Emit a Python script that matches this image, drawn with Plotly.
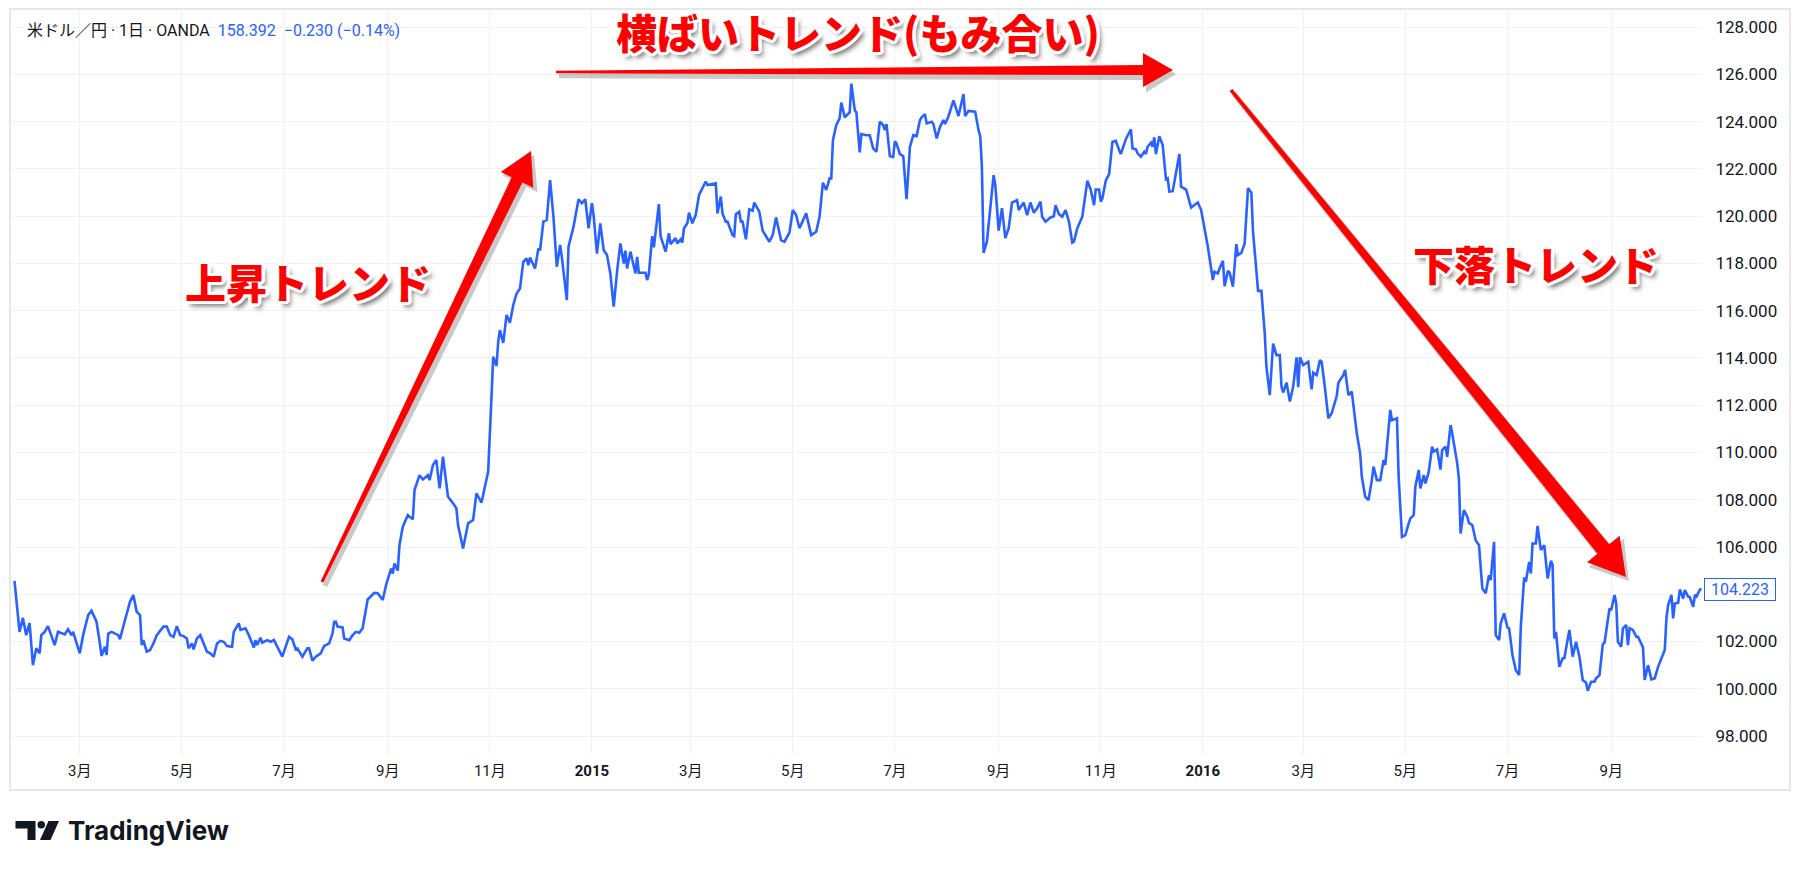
import math
import plotly.graph_objects as go

# USD/JPY daily close (OANDA)
dates_2014 = [
    "01-21", "01-24", "01-26", "01-28", "01-30", "02-01", "02-03", "02-05", "02-06", "02-08",
    "02-10", "02-14", "02-16", "02-20", "02-22", "02-24", "02-25", "03-01", "03-03", "03-06",
    "03-08", "03-11", "03-13", "03-14", "03-16", "03-17", "03-18", "03-20", "03-24", "03-25",
    "03-28", "03-31", "04-02", "04-04", "04-06", "04-07", "04-08", "04-10", "04-12", "04-14",
    "04-16", "04-20", "04-22", "04-24", "04-26", "04-28", "04-30", "05-02", "05-04", "05-05",
    "05-07", "05-08", "05-10", "05-12", "05-16", "05-18", "05-20", "05-22", "05-24", "05-26",
    "05-28", "05-31", "06-01", "06-04", "06-05", "06-08", "06-10", "06-13", "06-14", "06-15",
    "06-17", "06-18", "06-21", "06-23", "06-25", "06-27", "06-30", "07-04", "07-06", "07-08",
    "07-09", "07-12", "07-15", "07-16", "07-18", "07-20", "07-23", "07-25", "07-28", "07-30",
    "07-31", "08-01", "08-02", "08-05", "08-06", "08-09", "08-11", "08-13", "08-15", "08-17",
    "08-20", "08-24", "08-26", "08-29", "08-31", "09-03", "09-04", "09-05", "09-07", "09-08",
    "09-10", "09-13", "09-16", "09-17", "09-20", "09-22", "09-25", "09-26", "09-28", "09-30",
    "10-02", "10-04", "10-07", "10-10", "10-12", "10-13", "10-16", "10-19", "10-22", "10-24",
    "10-27", "10-28", "10-31", "11-02", "11-03", "11-05", "11-06", "11-07", "11-09", "11-11",
    "11-13", "11-15", "11-17", "11-19", "11-21", "11-23", "11-24", "11-25", "11-28", "11-30",
    "12-01", "12-03", "12-05", "12-07", "12-09", "12-11", "12-13", "12-14", "12-17", "12-18",
    "12-21", "12-24", "12-26", "12-28", "12-30",
]
close_2014 = [
    104.57, 102.41, 103.00, 102.27, 102.78, 101.00, 101.72, 101.50, 102.27, 102.41,
    102.65, 101.85, 102.41, 102.30, 102.52, 102.27, 102.41, 101.50, 102.27, 103.12,
    103.30, 102.84, 101.92, 101.39, 101.78, 101.43, 102.34, 102.41, 102.27, 102.10,
    102.90, 103.68, 103.97, 103.26, 103.12, 101.85, 102.06, 101.57, 101.64, 101.92,
    102.27, 102.63, 102.63, 102.27, 102.20, 102.65, 102.27, 102.23, 102.13, 101.71,
    101.92, 101.67, 102.13, 102.27, 101.57, 101.50, 101.36, 101.92, 102.03, 101.99,
    101.81, 101.78, 102.41, 102.77, 102.49, 102.56, 102.27, 101.75, 102.06, 101.85,
    102.16, 101.95, 102.06, 101.99, 102.06, 101.78, 101.36, 102.20, 102.09, 101.67,
    101.71, 101.36, 101.71, 101.71, 101.19, 101.36, 101.50, 101.81, 101.92, 102.34,
    102.84, 102.84, 102.63, 102.60, 102.13, 102.06, 102.27, 102.41, 102.37, 102.56,
    103.78, 104.06, 104.04, 103.76, 104.39, 105.09, 104.88, 105.30, 105.00, 106.08,
    106.86, 107.35, 107.17, 108.41, 109.04, 108.86, 109.04, 108.83, 109.47, 109.68,
    108.48, 109.82, 108.13, 107.85, 107.64, 106.93, 105.94, 107.00, 107.14, 108.27,
    107.88, 108.20, 109.19, 112.36, 114.05, 113.66, 114.68, 115.18, 114.64, 115.82,
    115.49, 116.24, 116.73, 116.94, 118.07, 118.21, 117.93, 118.25, 117.79, 118.63,
    118.56, 119.77, 119.84, 121.53, 119.98, 117.86, 118.78, 118.28, 116.45, 118.71,
    119.56, 120.72, 120.55, 120.72, 119.49,
]

dates_2015 = [
    "01-01", "01-02", "01-04", "01-06", "01-08", "01-10", "01-12", "01-14", "01-16", "01-18",
    "01-20", "01-21", "01-22", "01-24", "01-27", "01-28", "01-29", "02-02", "02-03", "02-04",
    "02-06", "02-07", "02-10", "02-11", "02-14", "02-16", "02-17", "02-20", "02-21", "02-23",
    "02-24", "02-25", "02-27", "02-28", "03-02", "03-04", "03-06", "03-08", "03-10", "03-11",
    "03-16", "03-17", "03-19", "03-20", "03-22", "03-23", "03-26", "03-27", "03-28", "03-30",
    "03-31", "04-01", "04-03", "04-05", "04-07", "04-08", "04-11", "04-13", "04-15", "04-17",
    "04-19", "04-21", "04-24", "04-26", "04-29", "05-01", "05-03", "05-05", "05-09", "05-12",
    "05-15", "05-17", "05-19", "05-21", "05-23", "05-24", "05-25", "05-27", "05-29", "05-30",
    "06-01", "06-04", "06-05", "06-07", "06-08", "06-10", "06-11", "06-14", "06-16", "06-18",
    "06-20", "06-22", "06-24", "06-25", "06-26", "06-28", "06-30", "07-01", "07-02", "07-04",
    "07-06", "07-08", "07-10", "07-12", "07-14", "07-16", "07-17", "07-19", "07-20", "07-23",
    "07-24", "07-26", "07-28", "07-30", "07-31", "08-02", "08-05", "08-08", "08-11", "08-12",
    "08-14", "08-18", "08-20", "08-21", "08-22", "08-23", "08-25", "08-27", "08-29", "08-30",
    "09-01", "09-03", "09-05", "09-07", "09-09", "09-12", "09-13", "09-16", "09-18", "09-20",
    "09-22", "09-24", "09-26", "09-27", "09-29", "10-02", "10-04", "10-05", "10-07", "10-09",
    "10-11", "10-13", "10-15", "10-16", "10-18", "10-21", "10-24", "10-26", "10-28", "10-29",
    "10-31", "11-01", "11-02", "11-04", "11-06", "11-08", "11-10", "11-12", "11-13", "11-16",
    "11-19", "11-20", "11-22", "11-23", "11-25", "11-27", "11-28", "11-29", "12-01", "12-02",
    "12-03", "12-04", "12-06", "12-08", "12-10", "12-11", "12-12", "12-14", "12-16", "12-18",
    "12-19", "12-22", "12-25", "12-27", "12-29", "12-31",
]
close_2015 = [
    120.55, 120.05, 118.42, 119.70, 118.57, 118.36, 117.58, 116.17, 117.65, 118.85,
    118.00, 118.54, 117.79, 118.50, 117.58, 118.28, 117.61, 117.61, 117.30, 117.55,
    119.16, 118.68, 120.51, 119.16, 118.50, 119.28, 118.82, 119.07, 118.85, 119.02,
    118.88, 119.49, 119.70, 120.15, 119.70, 120.05, 120.90, 121.19, 121.47, 121.32,
    121.39, 120.12, 120.83, 120.12, 119.77, 119.77, 119.20, 119.16, 120.09, 120.19,
    119.77, 119.77, 119.02, 120.29, 120.23, 120.58, 120.19, 119.39, 119.13, 118.92,
    119.20, 119.95, 118.99, 118.92, 119.30, 120.26, 120.05, 119.49, 120.12, 119.20,
    119.34, 119.98, 121.42, 121.11, 121.60, 121.60, 123.22, 123.86, 124.14, 124.81,
    124.19, 124.39, 125.61, 124.50, 124.39, 122.70, 123.48, 123.43, 123.43, 122.87,
    122.73, 124.00, 123.86, 123.64, 123.90, 122.54, 122.51, 123.18, 123.07, 122.63,
    122.54, 120.72, 122.93, 123.43, 123.39, 124.07, 124.19, 124.32, 123.93, 124.00,
    123.90, 123.29, 123.79, 124.07, 123.90, 124.22, 124.90, 124.24, 125.17, 124.24,
    124.46, 124.42, 123.64, 123.39, 122.10, 118.45, 118.92, 120.40, 121.74, 121.32,
    119.39, 120.34, 119.07, 119.49, 120.58, 120.68, 120.26, 120.58, 120.05, 120.58,
    120.15, 120.34, 120.62, 119.98, 119.77, 119.95, 120.00, 120.47, 120.09, 119.98,
    120.26, 119.77, 118.88, 118.92, 119.49, 119.98, 121.50, 121.13, 120.47, 121.13,
    121.13, 120.62, 120.76, 121.50, 121.78, 123.15, 123.19, 122.80, 122.63, 123.26,
    123.68, 122.87, 122.83, 122.66, 122.52, 122.73, 122.63, 122.94, 123.11, 122.94,
    123.34, 122.63, 123.39, 123.01, 121.56, 121.60, 121.04, 121.06, 121.83, 122.63,
    121.25, 121.13, 120.37, 120.47, 120.58, 120.26,
]

dates_2016 = [
    "01-03", "01-04", "01-07", "01-08", "01-10", "01-11", "01-13", "01-14", "01-16", "01-17",
    "01-19", "01-21", "01-22", "01-24", "01-26", "01-28", "01-30", "01-31", "02-02", "02-03",
    "02-05", "02-06", "02-07", "02-08", "02-10", "02-12", "02-14", "02-16", "02-17", "02-18",
    "02-20", "02-22", "02-24", "02-26", "02-27", "02-28", "03-01", "03-04", "03-06", "03-07",
    "03-09", "03-11", "03-12", "03-14", "03-16", "03-18", "03-21", "03-22", "03-25", "03-26",
    "03-28", "03-30", "04-02", "04-04", "04-05", "04-07", "04-09", "04-11", "04-12", "04-14",
    "04-16", "04-18", "04-19", "04-22", "04-23", "04-26", "04-27", "04-29", "05-01", "05-03",
    "05-04", "05-06", "05-07", "05-09", "05-10", "05-12", "05-13", "05-15", "05-17", "05-18",
    "05-20", "05-22", "05-23", "05-25", "05-26", "05-28", "05-29", "06-01", "06-02", "06-03",
    "06-05", "06-07", "06-08", "06-10", "06-12", "06-14", "06-16", "06-18", "06-20", "06-21",
    "06-23", "06-24", "06-26", "06-27", "06-29", "07-01", "07-02", "07-04", "07-06", "07-08",
    "07-09", "07-11", "07-12", "07-14", "07-15", "07-16", "07-18", "07-19", "07-21", "07-23",
    "07-25", "07-27", "07-28", "07-29", "07-30", "08-01", "08-03", "08-04", "08-07", "08-09",
    "08-11", "08-13", "08-15", "08-17", "08-18", "08-20", "08-22", "08-23", "08-25", "08-27",
    "08-28", "08-31", "09-01", "09-03", "09-04", "09-05", "09-07", "09-08", "09-10", "09-11",
    "09-12", "09-14", "09-16", "09-17", "09-19", "09-20", "09-21", "09-23", "09-25", "09-27",
    "09-29", "10-01", "10-03", "10-04", "10-05", "10-07", "10-08", "10-09", "10-11", "10-12",
    "10-14", "10-15", "10-17", "10-18", "10-20", "10-21", "10-22", "10-24", "10-25",
]
close_2016 = [
    119.13, 118.71, 117.30, 117.65, 117.58, 117.79, 118.11, 117.04, 117.69, 117.61,
    117.02, 118.82, 118.36, 118.45, 118.85, 121.19, 121.00, 119.34, 117.69, 116.84,
    116.84, 115.88, 115.04, 113.63, 112.43, 114.61, 114.12, 114.12, 112.79, 112.54,
    112.96, 112.16, 112.79, 114.03, 112.76, 114.03, 113.70, 113.84, 112.67, 113.38,
    113.28, 113.91, 113.84, 112.72, 111.45, 111.66, 112.39, 112.95, 113.28, 113.49,
    112.43, 112.57, 110.81, 109.96, 108.97, 108.13, 107.99, 108.83, 109.40, 108.83,
    108.83, 109.68, 109.47, 111.80, 111.37, 111.45, 108.97, 106.43, 106.50, 107.00,
    107.21, 107.35, 108.55, 109.26, 108.48, 109.04, 108.69, 109.19, 110.25, 110.04,
    110.13, 109.28, 110.10, 110.25, 109.82, 111.16, 110.81, 109.54, 108.90, 106.57,
    107.56, 107.28, 107.02, 106.93, 106.29, 106.08, 104.25, 104.04, 104.81, 104.60,
    106.22, 102.27, 102.06, 102.77, 103.19, 102.60, 102.56, 101.43, 100.79, 100.58,
    102.63, 104.71, 104.53, 105.37, 104.88, 106.15, 106.15, 106.89, 105.87, 106.08,
    104.67, 105.42, 105.24, 102.13, 102.41, 100.93, 101.29, 101.29, 102.49, 101.36,
    101.99, 101.36, 100.37, 100.26, 99.92, 100.30, 100.30, 100.44, 100.58, 101.89,
    101.95, 103.40, 103.33, 103.97, 103.61, 101.99, 101.78, 102.56, 102.70, 101.85,
    102.56, 102.49, 102.20, 102.20, 101.92, 101.75, 100.37, 101.00, 100.40, 100.44,
    100.93, 101.29, 101.64, 102.98, 103.54, 103.97, 102.98, 103.61, 103.64, 104.20,
    103.82, 104.18, 103.90, 103.87, 103.47, 103.97, 103.90, 104.20, 104.223,
]

tick_dates = [
    "2014-03-01", "2014-05-01", "2014-07-01", "2014-09-01", "2014-11-01", "2015-01-01",
    "2015-03-01", "2015-05-01", "2015-07-01", "2015-09-01", "2015-11-01", "2016-01-01",
    "2016-03-01", "2016-05-01", "2016-07-01", "2016-09-01",
]
tick_labels = [
    "3月", "5月", "7月", "9月", "11月", "<b>2015</b>",
    "3月", "5月", "7月", "9月", "11月", "<b>2016</b>",
    "3月", "5月", "7月", "9月",
]
price_ticks = [98, 100, 102, 104, 106, 108, 110, 112, 114, 116, 118, 120, 122, 124, 126, 128]
last_price = 104.223

dates = ["2014-" + d for d in dates_2014] + ["2015-" + d for d in dates_2015] + ["2016-" + d for d in dates_2016]
closes = close_2014 + close_2015 + close_2016

# the last-price tag hides the price label it sits on
price_labels = ["" if abs(v - last_price) < 1 else f"{v:.3f}" for v in price_ticks]

# page geometry (pixels) -> paper coords
W, H = 1804, 871
ML, MR, MT, MB = 12, 102, 9, 117
PW, PH = W - ML - MR, H - MT - MB


def paper(x, y):
    return (x - ML) / PW, (H - MB - y) / PH


def poly(points):
    coords = [paper(x, y) for x, y in points]
    return "M " + " L ".join(f"{a:.5f},{b:.5f}" for a, b in coords) + " Z"


def arrow_path(tail, tip, w0, w1, head_w, head_len, dx=0, dy=0):
    tx, ty = tail[0] + dx, tail[1] + dy
    hx, hy = tip[0] + dx, tip[1] + dy
    n = math.hypot(hx - tx, hy - ty)
    ux, uy = (hx - tx) / n, (hy - ty) / n
    nx, ny = -uy, ux
    bx, by = hx - ux * head_len, hy - uy * head_len
    pts = [
        (tx + nx * w0 / 2, ty + ny * w0 / 2),
        (bx + nx * w1 / 2, by + ny * w1 / 2),
        (bx + nx * head_w / 2, by + ny * head_w / 2),
        (hx, hy),
        (bx - nx * head_w / 2, by - ny * head_w / 2),
        (bx - nx * w1 / 2, by - ny * w1 / 2),
        (tx - nx * w0 / 2, ty - ny * w0 / 2),
    ]
    return poly(pts)


fig = go.Figure()

fig.add_trace(
    go.Scatter(
        x=dates,
        y=closes,
        mode="lines",
        line=dict(color="#2962ff", width=2.6),
        hoverinfo="skip",
        showlegend=False,
    )
)

grid = "#f0f1f4"
text_dark = "#131722"
fig.update_layout(
    width=W,
    height=H,
    margin=dict(l=ML, r=MR, t=MT, b=MB),
    paper_bgcolor="white",
    plot_bgcolor="white",
    font=dict(family="Roboto, 'Noto Sans CJK JP', sans-serif", color=text_dark),
    xaxis=dict(
        type="date",
        range=["2014-01-19 12:00", "2016-10-25 06:00"],
        tickmode="array",
        tickvals=tick_dates,
        ticktext=tick_labels,
        showgrid=True,
        gridcolor=grid,
        gridwidth=1,
        zeroline=False,
        showline=False,
        ticks="outside",
        ticklen=3,
        tickcolor="rgba(0,0,0,0)",
        tickfont=dict(size=15, color=text_dark),
        fixedrange=True,
    ),
    yaxis=dict(
        side="right",
        range=[97.24, 128.77],
        tickmode="array",
        tickvals=price_ticks,
        ticktext=price_labels,
        showgrid=True,
        gridcolor=grid,
        gridwidth=1,
        zeroline=False,
        showline=False,
        ticks="outside",
        ticklen=9,
        tickcolor="rgba(0,0,0,0)",
        tickfont=dict(size=17, color=text_dark),
        fixedrange=True,
    ),
)

shapes = []

# outer widget frame
fx0, fy0 = paper(10, 9)
fx1, fy1 = paper(1790, 790)
shapes.append(dict(type="rect", xref="paper", yref="paper", x0=fx0, y0=fy1, x1=fx1, y1=fy0,
                   line=dict(color="#e6e7ea", width=2), fillcolor="rgba(0,0,0,0)", layer="below"))

# red trend arrows (tail, tip, tail width, neck width, head width, head length)
arrows = [
    ((322, 582), (531, 151), 3, 12, 36, 32),
    ((556, 72), (1173, 70), 2.5, 10, 34, 30),
    ((1231, 90), (1626, 577), 3.5, 15, 42, 36),
]
for tail, tip, w0, w1, hw, hl in arrows:
    shapes.append(dict(type="path", xref="paper", yref="paper",
                       path=arrow_path(tail, tip, w0 + 2, w1 + 2, hw + 3, hl, dx=3, dy=4),
                       fillcolor="rgba(60,60,60,0.28)", line=dict(width=0)))
    shapes.append(dict(type="path", xref="paper", yref="paper",
                       path=arrow_path(tail, tip, w0, w1, hw, hl),
                       fillcolor="#ff0000", line=dict(width=0)))

# TradingView logo mark
shapes.append(dict(type="path", xref="paper", yref="paper", line=dict(width=0), fillcolor=text_dark,
                   path=poly([(15.5, 821), (35.5, 821), (35.5, 840), (27.5, 840), (27.5, 828.5), (15.5, 828.5)])))
cx0, cy0 = paper(37.5, 821)
cx1, cy1 = paper(45, 828.5)
shapes.append(dict(type="circle", xref="paper", yref="paper", x0=cx0, y0=cy1, x1=cx1, y1=cy0,
                   line=dict(width=0), fillcolor=text_dark))
shapes.append(dict(type="path", xref="paper", yref="paper", line=dict(width=0), fillcolor=text_dark,
                   path=poly([(48.5, 821), (59, 821), (50.5, 840), (40, 840)])))

fig.update_layout(shapes=shapes)

# outlined red labels
outline = []
for k in range(16):
    a = 2 * math.pi * k / 16
    outline.append(f"{3.2 * math.cos(a):.1f}px {3.2 * math.sin(a):.1f}px 0 #ffffff")
outline.append("4px 5px 5px rgba(0,0,0,0.55)")
label_shadow = ", ".join(outline)

labels = [
    ("上昇トレンド", 308, 281),
    ("横ばいトレンド(もみ合い)", 858, 31),
    ("下落トレンド", 1536, 263),
]
for text, lx, ly in labels:
    ax_, ay_ = paper(lx, ly)
    fig.add_annotation(
        x=ax_, y=ay_, xref="paper", yref="paper", xanchor="center", yanchor="middle",
        text=text, showarrow=False,
        font=dict(family="Noto Sans CJK JP", size=41, color="#ff0000", weight=900, shadow=label_shadow),
    )

# header line
hx, hy = paper(25, 30)
fig.add_annotation(
    x=hx, y=hy, xref="paper", yref="paper", xanchor="left", yanchor="middle", showarrow=False,
    text="米ドル／円 · 1日 · OANDA  <span style='color:#2962ff'>158.392  −0.230 (−0.14%)</span>",
    font=dict(family="Roboto, 'Noto Sans CJK JP'", size=16, color=text_dark),
)

# last price tag
px_, _ = paper(1704, 0)
fig.add_annotation(
    x=px_, y=last_price, xref="paper", yref="y", xanchor="left", yanchor="middle", showarrow=False,
    text=f"{last_price:.3f}", width=68, height=19, align="center",
    bordercolor="#2962ff", borderwidth=1, borderpad=1, bgcolor="white",
    font=dict(family="Roboto", size=16, color="#2962ff"),
)

# TradingView wordmark
tx, ty = paper(66, 830)
fig.add_annotation(
    x=tx, y=ty, xref="paper", yref="paper", xanchor="left", yanchor="middle", showarrow=False,
    text="<b>TradingView</b>",
    font=dict(family="Inter, Roboto", size=26, color=text_dark),
)

# drop the default body margin so the figure sits at the page origin
fig.write_html("out.html", config={"displayModeBar": False},
               post_script="document.body.style.margin='0';")
